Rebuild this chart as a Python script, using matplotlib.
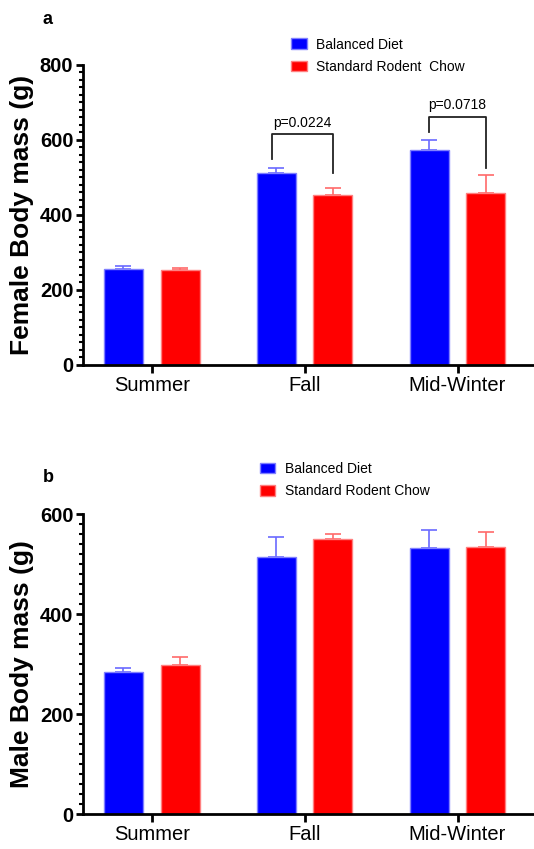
import numpy as np
import matplotlib
matplotlib.use('Agg')
import matplotlib.pyplot as plt
from matplotlib.ticker import MultipleLocator

plt.rcParams['font.family'] = ['Liberation Sans', 'DejaVu Sans']

seasons = ['Summer', 'Fall', 'Mid-Winter']
groups = ['Balanced Diet', 'Standard Rodent  Chow']
groups_b = ['Balanced Diet', 'Standard Rodent Chow']

female_balanced = [256, 513, 574]
female_balanced_err = [7, 11, 27]
female_chow = [252, 454, 458]
female_chow_err = [7, 18, 48]

male_balanced = [284, 515, 533]
male_balanced_err = [9, 40, 36]
male_chow = [298, 550, 535]
male_chow_err = [17, 10, 30]

# significance brackets for females: (season index, p label, top, left drop, right drop)
f_pvals = [(1, 'p=0.0224', 615, 549, 512), (2, 'p=0.0718', 662, 622, 526)]

BLUE = '#0000ff'
RED = '#ff0000'


def bar_panel(ax, blue, blue_err, red, red_err, ymax, ylabel, labels):
    x = np.arange(len(seasons))
    w = 0.255
    off = 0.185
    ax.bar(x - off, blue, w, color=BLUE, edgecolor='#8080ff', linewidth=1, label=labels[0], zorder=2)
    ax.bar(x + off, red, w, color=RED, edgecolor='#ff8080', linewidth=1, label=labels[1], zorder=2)
    ax.errorbar(x - off, blue, yerr=[np.zeros(3), blue_err], fmt='none', ecolor='#6a6aff',
                elinewidth=1.2, capsize=6, capthick=1.2, zorder=1)
    ax.errorbar(x + off, red, yerr=[np.zeros(3), red_err], fmt='none', ecolor='#ff6a6a',
                elinewidth=1.2, capsize=6, capthick=1.2, zorder=1)
    ax.set_xlim(-0.45, 2.5)
    ax.set_ylim(0, ymax)
    ax.set_xticks(x)
    ax.set_xticklabels(seasons, fontsize=14.5)
    ax.yaxis.set_major_locator(MultipleLocator(200))
    ax.yaxis.set_minor_locator(MultipleLocator(20))
    for lbl in ax.get_yticklabels():
        lbl.set_fontweight('bold')
        lbl.set_fontsize(14.5)
    ax.set_ylabel(ylabel, fontsize=19, fontweight='bold', labelpad=4)
    for s in ['top', 'right']:
        ax.spines[s].set_visible(False)
    for s in ['left', 'bottom']:
        ax.spines[s].set_linewidth(2)
    ax.tick_params(axis='both', which='major', width=2, length=5, pad=2)
    ax.tick_params(axis='y', which='minor', width=1.5, length=3)
    ax.tick_params(axis='x', which='major', length=6)
    return x, off


fig = plt.figure(figsize=(5.34, 8.49), dpi=100)

ax1 = fig.add_axes([0.1554, 0.5701, 0.8446, 0.3534])
x, off = bar_panel(ax1, female_balanced, female_balanced_err, female_chow, female_chow_err,
                   800, 'Female Body mass (g)', groups)
for i, label, top, ldrop, rdrop in f_pvals:
    xl = x[i] - off - 0.03 if i == 1 else x[i] - off
    xr = x[i] + off
    ax1.plot([xl, xl, xr, xr], [ldrop, top, top, rdrop], color='#222222', lw=1.3, clip_on=False)
    ax1.text((xl + xr) / 2, top + 12, label, ha='center', va='bottom', fontsize=10)
ax1.legend(loc='upper left', bbox_to_anchor=(0.45, 1.11), frameon=False, fontsize=10,
           handlelength=1.1, handleheight=0.8, handletextpad=0.7, labelspacing=0.6,
           borderaxespad=0)
fig.text(0.08, 0.977, 'a', fontsize=13, fontweight='bold', va='center')

ax2 = fig.add_axes([0.1554, 0.0409, 0.8446, 0.3534])
bar_panel(ax2, male_balanced, male_balanced_err, male_chow, male_chow_err,
          600, 'Male Body mass (g)', groups_b)
ax2.legend(loc='upper left', bbox_to_anchor=(0.38, 1.193), frameon=False, fontsize=10,
           handlelength=1.1, handleheight=0.8, handletextpad=0.7, labelspacing=0.6,
           borderaxespad=0)
fig.text(0.08, 1 - 477 / 849, 'b', fontsize=13, fontweight='bold', va='center')

fig.savefig('out.png', dpi=100)
